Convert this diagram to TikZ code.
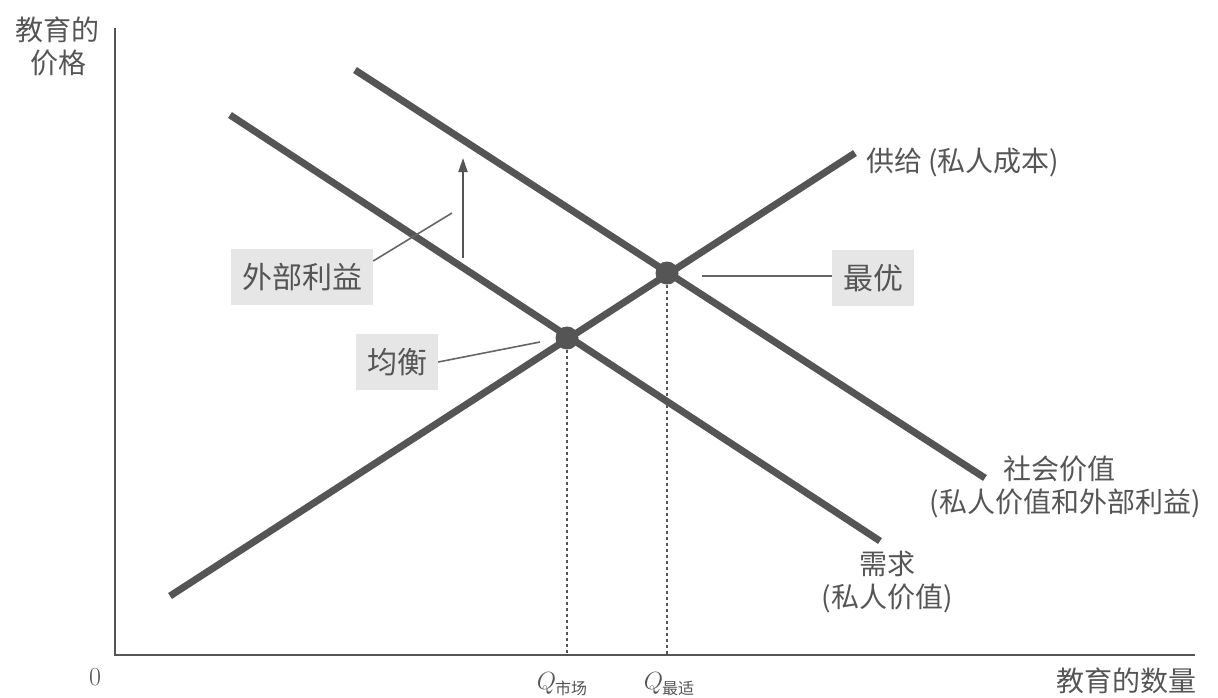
\documentclass[tikz,border=0pt]{standalone}
\usepackage{fontspec}
\setmainfont{Noto Sans CJK SC}
\newfontfamily\latinfont{Latin Modern Roman}
\newfontfamily\cjkfont{Noto Sans CJK SC}
\usetikzlibrary{arrows.meta}
\definecolor{ink}{HTML}{555555}
\definecolor{boxgray}{HTML}{E6E6E6}
\tikzset{
  curve/.style={line width=7pt, draw=ink},
  axis/.style={line width=2.5pt, draw=ink},
  leader/.style={line width=1.6pt, draw=ink!90},
  guide/.style={line width=2.8pt, draw=ink, dash pattern=on 2.8pt off 3.2pt},
  lbl/.style={text=ink, font=\fontsize{28}{33}\selectfont, inner sep=0pt, align=center},
  tag/.style={text=ink, fill=boxgray, font=\fontsize{30}{33}\selectfont, inner xsep=11pt, inner ysep=14pt},
  dot/.style={circle, fill=ink, minimum size=23pt, inner sep=0pt}
}
\begin{document}
\begin{tikzpicture}[x=1pt,y=-1pt]
\useasboundingbox (0,0) rectangle (1218,697);
% axes
\coordinate (O) at (115,655);
\coordinate (ytop) at (115,28);
\coordinate (xend) at (1195,655);
\draw[axis] (ytop) -- (O) -- (xend);
% curves
\coordinate (s1) at (170,596); \coordinate (s2) at (855,153);
\coordinate (d1) at (230,115); \coordinate (d2) at (880,541);
\coordinate (v1) at (355,70);  \coordinate (v2) at (985,478);
\draw[curve] (s1) -- (s2);
\draw[curve] (d1) -- (d2);
\draw[curve] (v1) -- (v2);
% equilibrium points
\node[dot] (eq) at (567,338) {};
\node[dot] (opt) at (667,273) {};
\coordinate (qm) at (567,655);
\coordinate (qo) at (667,655);
\draw[guide] (eq) -- (qm);
\draw[guide] (opt) -- (qo);
% arrow
\coordinate (a1) at (463,258); \coordinate (a2) at (463,158);
\draw[line width=2pt, draw=ink, -{Triangle[length=14pt,width=9pt]}] (a1) -- (a2);
% tags
\node[tag] (ext) at (302,277) {外部利益};
\node[tag] (eqt) at (397,362) {均衡};
\node[tag] (optt) at (873,278) {最优};
\coordinate (ext2) at (452,213);
\coordinate (eq2) at (540,342);
\coordinate (opt2) at (702,276);
\draw[leader] (ext.east) ++(0,-16) -- (ext2);
\draw[leader] (eqt.east) -- (eq2);
\draw[leader] (optt.west |- opt2) -- (opt2);
% labels
\node[lbl, anchor=west] (sl) at (866,162) {供给 (私人成本)};
\node[lbl] (vl) at (1065,487) {\hspace*{-0.4em}社会价值\\(私人价值和外部利益)};
\node[lbl] (dl) at (887,582) {需求\\(私人价值)};
\node[lbl] (yl) at (58,46) {教育的\\价格};
\node[lbl] (xl) at (1126,681) {教育的数量};
\node[text=ink, font=\latinfont\fontsize{26}{28}\selectfont, inner sep=0pt] (zero) at (95,677) {0};
\node[text=ink, inner sep=0pt, font=\latinfont\fontsize{27}{28}\selectfont] (qml) at (562,684) {$Q$\kern-1pt{\cjkfont\fontsize{16}{16}\selectfont\raisebox{-5pt}{市场}}};
\node[text=ink, inner sep=0pt, font=\latinfont\fontsize{27}{28}\selectfont] (qol) at (669,684) {$Q$\kern-1pt{\cjkfont\fontsize{16}{16}\selectfont\raisebox{-5pt}{最适}}};
\end{tikzpicture}
\end{document}
